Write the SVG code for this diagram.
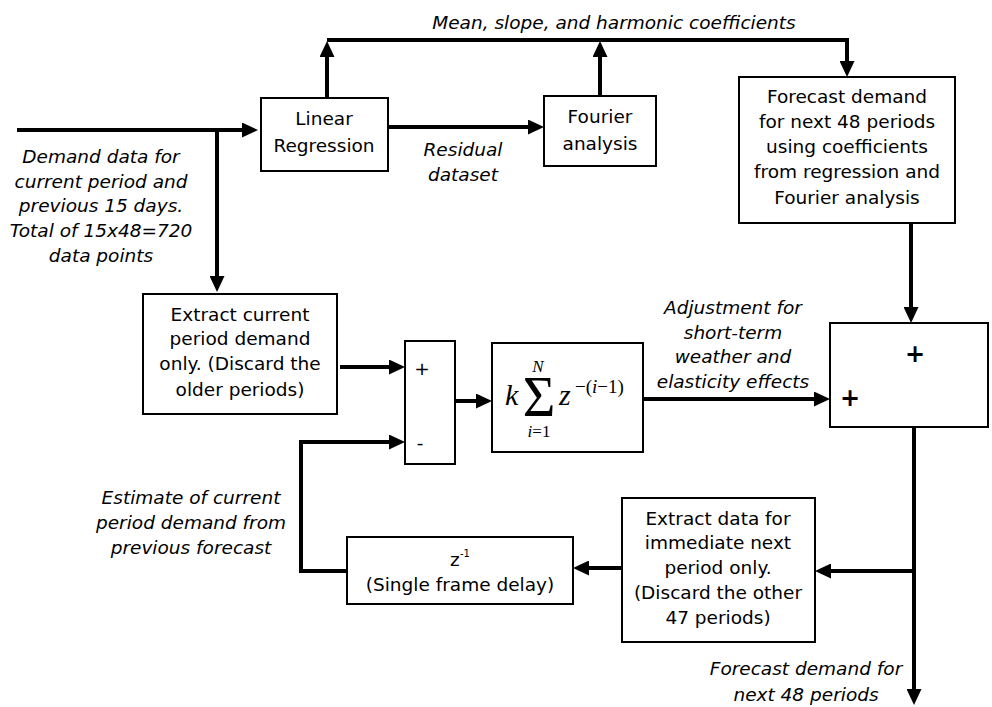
<svg xmlns="http://www.w3.org/2000/svg" width="992" height="707" viewBox="0 0 992 707">
<style>
.box{fill:#fff;stroke:#000;stroke-width:2}
.t{font-family:"DejaVu Sans",Verdana,sans-serif;font-size:18.5px;fill:#000;text-anchor:middle}
.i{font-style:italic}
.c{fill:none;stroke:#000;stroke-width:4}
.m{font-family:"Liberation Serif","Times New Roman",serif;fill:#000}
.pb{font-family:"DejaVu Sans",sans-serif;font-weight:bold;font-size:24px;text-anchor:middle}
</style>
<defs>
<marker id="ah" viewBox="0 0 16 15" markerWidth="16" markerHeight="15" markerUnits="userSpaceOnUse" refX="4" refY="7.5" orient="auto">
<path d="M0,0 L16,7.5 L0,15 z" fill="#000"/>
</marker>
</defs>

<g id="connectors">
<path class="c" d="M17,130 H246" marker-end="url(#ah)"/>
<path class="c" d="M217,130 V280" marker-end="url(#ah)"/>
<path class="c" d="M327,98 V53" marker-end="url(#ah)"/>
<path class="c" d="M327,40 H847 V65" marker-end="url(#ah)"/>
<path class="c" d="M600,96 V53" marker-end="url(#ah)"/>
<path class="c" d="M388,127 H532" marker-end="url(#ah)"/>
<path class="c" d="M911,223 V311" marker-end="url(#ah)"/>
<path class="c" d="M340,367 H393" marker-end="url(#ah)"/>
<path class="c" d="M455,401 H480" marker-end="url(#ah)"/>
<path class="c" d="M643,399 H818" marker-end="url(#ah)"/>
<path class="c" d="M914,427 V693" marker-end="url(#ah)"/>
<path class="c" d="M914,571 H827" marker-end="url(#ah)"/>
<path class="c" d="M622,568 H585" marker-end="url(#ah)"/>
<path class="c" d="M347,571 H301 V442 H393" marker-end="url(#ah)"/>
</g>

<g id="labels">
<text class="t i" x="614" y="29">Mean, slope, and harmonic coefficients</text>
<text class="t i"><tspan x="463" y="156">Residual</tspan><tspan x="463" y="181">dataset</tspan></text>
<text class="t i"><tspan x="101" y="163">Demand data for</tspan><tspan x="101" y="188">current period and</tspan><tspan x="101" y="212">previous 15 days.</tspan><tspan x="101" y="237">Total of 15x48=720</tspan><tspan x="101" y="262">data points</tspan></text>
<text class="t i"><tspan x="733" y="314">Adjustment for</tspan><tspan x="733" y="339">short-term</tspan><tspan x="733" y="363">weather and</tspan><tspan x="733" y="388">elasticity effects</tspan></text>
<text class="t i"><tspan x="191" y="504">Estimate of current</tspan><tspan x="191" y="529">period demand from</tspan><tspan x="191" y="554">previous forecast</tspan></text>
<text class="t i"><tspan x="806" y="675">Forecast demand for</tspan><tspan x="806" y="701">next 48 periods</tspan></text>
</g>

<g id="linear-regression">
<rect class="box" x="261" y="98" width="127" height="73"/>
<text class="t"><tspan x="324" y="125">Linear</tspan><tspan x="324" y="152">Regression</tspan></text>
</g>

<g id="fourier">
<rect class="box" x="544" y="96" width="112" height="70"/>
<text class="t"><tspan x="600" y="123">Fourier</tspan><tspan x="600" y="150">analysis</tspan></text>
</g>

<g id="forecast">
<rect class="box" x="739" y="77" width="216" height="146"/>
<text class="t"><tspan x="847" y="103">Forecast demand</tspan><tspan x="847" y="128">for next 48 periods</tspan><tspan x="847" y="153">using coefficients</tspan><tspan x="847" y="178">from regression and</tspan><tspan x="847" y="204">Fourier analysis</tspan></text>
</g>

<g id="extract-current">
<rect class="box" x="143" y="294" width="194" height="120"/>
<text class="t"><tspan x="240" y="321">Extract current</tspan><tspan x="240" y="345">period demand</tspan><tspan x="240" y="370">only. (Discard the</tspan><tspan x="240" y="396">older periods)</tspan></text>
</g>

<g id="junction">
<rect class="box" x="405" y="341" width="50" height="123"/>
<text class="t" x="422" y="375">+</text>
<text class="t" x="420" y="449">-</text>
</g>

<g id="filter">
<rect class="box" x="492" y="343" width="151" height="109"/>
<text class="m" x="505" y="405" font-size="30" font-style="italic">k</text>
<text class="m" x="539" y="416" font-size="56" text-anchor="middle">Σ</text>
<text class="m" x="538" y="372" font-size="17" font-style="italic" text-anchor="middle">N</text>
<text class="m" x="539" y="437" font-size="17" text-anchor="middle"><tspan font-style="italic">i</tspan>=1</text>
<text class="m" x="559" y="405" font-size="30" font-style="italic">z</text>
<text class="m" x="575" y="393" font-size="19">−(<tspan font-style="italic">i</tspan>−1)</text>
</g>

<g id="adder">
<rect class="box" x="830" y="323" width="158" height="104"/>
<text class="pb" x="915" y="362">+</text>
<text class="pb" x="850" y="406">+</text>
</g>

<g id="delay">
<rect class="box" x="347" y="537" width="226" height="67"/>
<text class="t" x="450" y="566" style="text-anchor:start">z</text>
<text class="t" x="460" y="557" style="text-anchor:start;font-size:10px">-1</text>
<text class="t" x="460" y="591">(Single frame delay)</text>
</g>

<g id="extract-next">
<rect class="box" x="622" y="498" width="193" height="144"/>
<text class="t"><tspan x="718" y="525">Extract data for</tspan><tspan x="718" y="549">immediate next</tspan><tspan x="718" y="574">period only.</tspan><tspan x="718" y="599">(Discard the other</tspan><tspan x="718" y="624">47 periods)</tspan></text>
</g>
</svg>
